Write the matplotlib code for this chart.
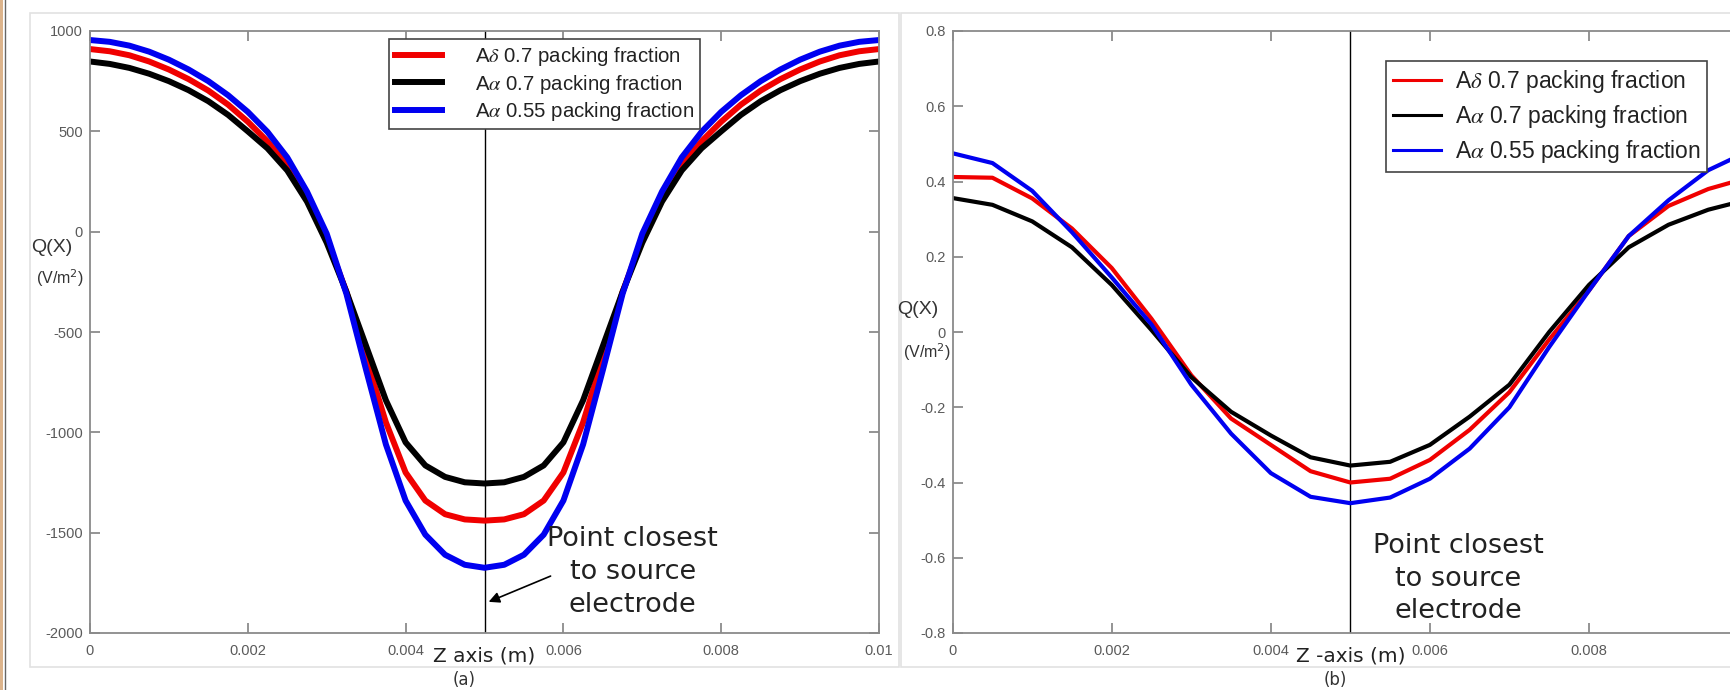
import numpy as np
import matplotlib
matplotlib.use("Agg")
import matplotlib.pyplot as plt
from matplotlib.patches import Rectangle
from matplotlib.font_manager import FontProperties

plt.rcParams['axes.unicode_minus'] = False

# ---- data: panel (a) ----
z_a = np.linspace(0, 0.01, 41)
a_delta_07 = [910, 899, 879, 848, 808, 760, 703, 633, 548, 450, 330, 165, -35, -300, -630, -950, -1200, -1340, -1408, -1434, -1440,
              -1434, -1408, -1340, -1200, -950, -630, -300, -35, 165, 330, 450, 548, 633, 703, 760, 808, 848, 879, 899, 910]
a_alpha_07 = [848, 836, 816, 787, 750, 705, 650, 582, 500, 415, 305, 150, -55, -300, -570, -840, -1050, -1165, -1222, -1249, -1255,
              -1249, -1222, -1165, -1050, -840, -570, -300, -55, 150, 305, 415, 500, 582, 650, 705, 750, 787, 816, 836, 848]
a_alpha_055 = [955, 946, 927, 897, 857, 808, 750, 680, 597, 497, 370, 200, -10, -310, -690, -1060, -1340, -1510, -1610, -1660, -1675,
               -1660, -1610, -1510, -1340, -1060, -690, -310, -10, 200, 370, 497, 597, 680, 750, 808, 857, 897, 927, 946, 955]

# ---- data: panel (b) ----
z_b = np.linspace(0, 0.01, 21)
b_delta_07 = [0.412, 0.410, 0.355, 0.275, 0.170, 0.035, -0.115, -0.230, -0.300, -0.370, -0.400,
              -0.390, -0.340, -0.260, -0.160, -0.020, 0.110, 0.255, 0.335, 0.380, 0.410]
b_alpha_07 = [0.356, 0.338, 0.294, 0.225, 0.125, 0.005, -0.120, -0.212, -0.275, -0.333, -0.355,
              -0.345, -0.300, -0.225, -0.140, 0.000, 0.125, 0.225, 0.285, 0.325, 0.352]
b_alpha_055 = [0.475, 0.449, 0.375, 0.265, 0.145, 0.020, -0.140, -0.270, -0.375, -0.438, -0.455,
               -0.440, -0.390, -0.310, -0.200, -0.040, 0.110, 0.255, 0.350, 0.430, 0.480]

labels = [r'A$\delta$ 0.7 packing fraction', r'A$\alpha$ 0.7 packing fraction', r'A$\alpha$ 0.55 packing fraction']
colors = ['#f00000', 'black', '#0000f0']

x_ticks = [0, 0.002, 0.004, 0.006, 0.008, 0.01]
x_ticklabels = ['0', '0.002', '0.004', '0.006', '0.008', '0.01']
ya_ticks = [-2000, -1500, -1000, -500, 0, 500, 1000]
yb_ticks = [-0.8, -0.6, -0.4, -0.2, 0, 0.2, 0.4, 0.6, 0.8]
yb_ticklabels = ['-0.8', '-0.6', '-0.4', '-0.2', '0', '0.2', '0.4', '0.6', '0.8']

W, H = 1730, 690
fig = plt.figure(figsize=(W / 100, H / 100), dpi=100)
fig.patch.set_facecolor('white')

def fx(px):
    return px / W

def fy(py):
    return 1 - py / H

# page edge on the left and the two figure frames (behind the axes)
fig.patches.append(Rectangle((0, 0), fx(3.5), 1, transform=fig.transFigure, facecolor='#dcb48c',
                             edgecolor='none', zorder=-10))
fig.add_artist(plt.Line2D([fx(4.5), fx(4.5)], [0, 1], transform=fig.transFigure, color='#666666', lw=1, zorder=-9))
fig.patches.append(Rectangle((fx(30), fy(667)), fx(869), (667 - 13) / H, transform=fig.transFigure,
                             facecolor='white', edgecolor='#e2e2e2', lw=1.2, zorder=-10))
fig.patches.append(Rectangle((fx(901), fy(667)), fx(860), (667 - 13) / H, transform=fig.transFigure,
                             facecolor='white', edgecolor='#e2e2e2', lw=1.2, zorder=-10))

tick_font = 'Liberation Sans'
ann_font = 'DejaVu Sans'


def style_axes(ax):
    for s in ax.spines.values():
        s.set_color('#8a8a8a')
        s.set_linewidth(1.3)
    ax.tick_params(direction='in', length=7, width=1.1, color='#777777', top=True, right=True,
                   labelcolor='#5a5a5a', labelsize=10.5, pad=5)
    ax.tick_params(axis='x', pad=8)
    ax.set_xticks(x_ticks)
    ax.set_xticklabels(x_ticklabels, fontfamily=tick_font)


# ---- panel (a) ----
ax1 = fig.add_axes([fx(90), fy(633), fx(879 - 90), (633 - 31) / H])
for y, c, lab in zip([a_delta_07, a_alpha_07, a_alpha_055], colors, labels):
    ax1.plot(z_a, y, color=c, lw=4.3, label=lab)
ax1.axvline(0.005, color='black', lw=1.0, zorder=1)
ax1.set_xlim(0, 0.01)
ax1.set_ylim(-2000, 1000)
ax1.set_yticks(ya_ticks)
ax1.set_yticklabels([str(t) for t in ya_ticks], fontfamily=tick_font)
style_axes(ax1)

leg_prop1 = FontProperties(family='Liberation Sans', size=14.7, math_fontfamily='stix')
leg1 = ax1.legend(loc='upper left', bbox_to_anchor=(fx(389), fy(39)), bbox_transform=fig.transFigure,
                  prop=leg_prop1, frameon=True, fancybox=False, edgecolor='#444444', framealpha=1,
                  handlelength=2.3, handletextpad=1.6, labelspacing=0.22, borderpad=0.3, borderaxespad=0)
leg1.get_frame().set_linewidth(1.2)
for t in leg1.get_texts():
    t.set_color('#222222')

ax1.text(0.005, -0.038, 'Z axis (m)', transform=ax1.get_xaxis_transform(), ha='center', va='center',
         fontsize=14.5, fontfamily=ann_font, color='#222222')
ax1.annotate('', xy=(0.00502, -1850), xytext=(0.00587, -1711),
             arrowprops=dict(arrowstyle='-|>', color='black', lw=1.2, mutation_scale=16))
ax1.text(0.00688, -1696, 'Point closest\nto source\nelectrode', ha='center', va='center',
         fontsize=19.5, fontfamily=ann_font, color='#222222', linespacing=1.33)

# ---- panel (b) ----
ax2 = fig.add_axes([fx(952.7), fy(633), fx(1748 - 952.7), (633 - 31) / H])
for y, c, lab in zip([b_delta_07, b_alpha_07, b_alpha_055], colors, labels):
    ax2.plot(z_b, y, color=c, lw=3.0, label=lab)
ax2.axvline(0.005, color='black', lw=1.0, zorder=1)
ax2.set_xlim(0, 0.01)
ax2.set_ylim(-0.8, 0.8)
ax2.set_yticks(yb_ticks)
ax2.set_yticklabels(yb_ticklabels, fontfamily=tick_font)
style_axes(ax2)

leg_prop2 = FontProperties(family='Liberation Sans', size=16.5, math_fontfamily='stix')
leg2 = ax2.legend(loc='upper left', bbox_to_anchor=(fx(1386), fy(61)), bbox_transform=fig.transFigure,
                  prop=leg_prop2, frameon=True, fancybox=False, edgecolor='#444444', framealpha=1,
                  handlelength=2.1, handletextpad=0.6, labelspacing=0.36, borderpad=0.3, borderaxespad=0)
leg2.get_frame().set_linewidth(1.2)
for line in leg2.get_lines():
    line.set_linewidth(2.2)
for t in leg2.get_texts():
    t.set_color('#222222')

ax2.text(0.005, -0.038, 'Z -axis (m)', transform=ax2.get_xaxis_transform(), ha='center', va='center',
         fontsize=14.5, fontfamily=ann_font, color='#222222')
ax2.text(0.00636, -0.656, 'Point closest\nto source\nelectrode', ha='center', va='center',
         fontsize=19.5, fontfamily=ann_font, color='#222222', linespacing=1.33)

# ---- y labels and captions ----
fig.text(fx(52), fy(248), 'Q(X)', ha='center', va='center', fontsize=14, fontfamily=tick_font, color='#333333')
fig.text(fx(60), fy(278), '(V/m$^2$)', ha='center', va='center', fontsize=11.5, fontfamily=tick_font,
         color='#333333', math_fontfamily='dejavusans')
fig.text(fx(918), fy(310), 'Q(X)', ha='center', va='center', fontsize=14, fontfamily=tick_font, color='#333333')
fig.text(fx(927), fy(352), '(V/m$^2$)', ha='center', va='center', fontsize=11.5, fontfamily=tick_font,
         color='#333333', math_fontfamily='dejavusans')
fig.text(fx(464), fy(680), '(a)', ha='center', va='center', fontsize=12, fontfamily=ann_font, color='#333333')
fig.text(fx(1335), fy(680), '(b)', ha='center', va='center', fontsize=12, fontfamily=ann_font, color='#333333')

fig.savefig('out.png', dpi=100, facecolor='white')
